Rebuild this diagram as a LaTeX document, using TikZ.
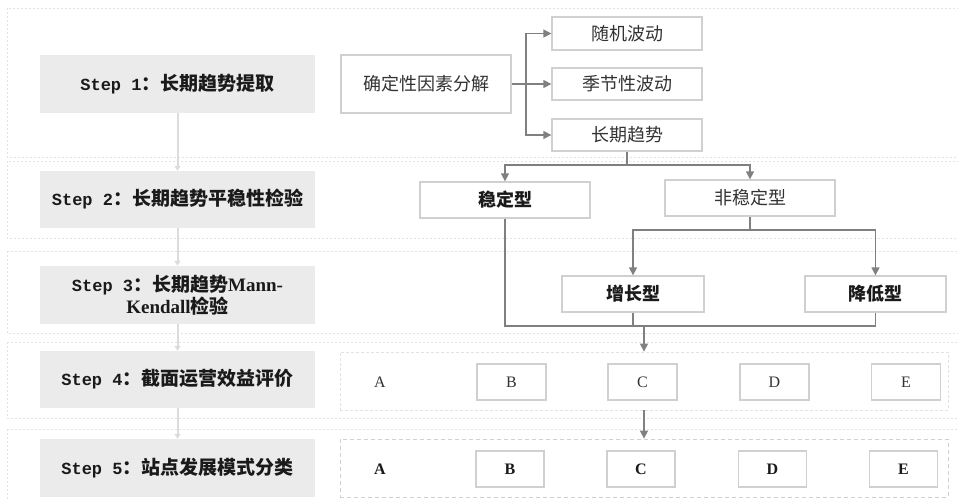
\documentclass[tikz,border=0pt]{standalone}
\usepackage{fontspec}
\setmainfont{Liberation Serif}
\newfontfamily\cjk{Noto Sans CJK SC}
\newfontfamily\monof{Liberation Mono}
\usetikzlibrary{arrows.meta}
\definecolor{bandline}{HTML}{E2E2E2}
\definecolor{stepfill}{HTML}{EBEBEB}
\definecolor{boxline}{HTML}{D0D0D0}
\definecolor{conn}{HTML}{808080}
\definecolor{stepconn}{HTML}{DCDCDC}
\definecolor{txt}{HTML}{1A1A1A}
\definecolor{txtl}{HTML}{333333}
\newcommand{\zh}[1]{{\cjk #1}}
\newcommand{\stp}[1]{{\monof\fontsize{17}{22}\selectfont Step #1}}
\tikzset{
  band/.style={draw=bandline, line width=0.8pt, dash pattern=on 2pt off 2pt, fill=white},
  stepbox/.style={fill=stepfill, draw=none, minimum width=275pt, text=txt, font=\fontsize{19}{22}\selectfont\bfseries, align=center, inner sep=0pt},
  wbox/.style={draw=boxline, line width=1.3pt, fill=white, text=txtl, font=\cjk\fontsize{18}{20}\selectfont, inner sep=0pt},
  bwbox/.style={wbox, text=txt, font=\cjk\fontsize{18}{20}\selectfont\bfseries},
  lbox/.style={draw=boxline, line width=1.3pt, fill=white, text=txtl, font=\fontsize{16}{18}\selectfont, minimum height=36pt, inner sep=0pt},
  arr/.style={draw=conn, line width=1.3pt, -{Triangle[length=8pt,width=8pt]}},
  ln/.style={draw=conn, line width=1.3pt},
  sarr/.style={draw=stepconn, line width=2pt, -{Triangle[length=5pt,width=6pt]}},
  inner/.style={draw=bandline, line width=0.8pt, dash pattern=on 3pt off 2pt, minimum width=608pt, inner sep=0pt},
}
\begin{document}
\begin{tikzpicture}[x=1pt,y=-1pt]
\useasboundingbox (0,0) rectangle (958,499);
\fill[white] (0,0) rectangle (958,499);
% bands
\draw[band] (7,8) rectangle (964,157);
\draw[band] (7,161) rectangle (964,238);
\draw[band] (7,251) rectangle (964,333);
\draw[band] (7,342) rectangle (964,418);
\draw[band] (7,429) rectangle (964,505);
% inner dashed boxes
\node[inner, minimum height=58pt] (r4) at (644,381) {};
\node[inner, draw=boxline, dash pattern=on 4pt off 3pt, minimum height=58pt] (r5) at (644,468) {};
% step boxes
\node[stepbox, minimum height=58pt] (s1) at (177.5,84) {\stp{1}\zh{：长期趋势提取}};
\node[stepbox, minimum height=57pt] (s2) at (177.5,199.5) {\stp{2}\zh{：长期趋势平稳性检验}};
\node[stepbox, minimum height=58pt] (s3) at (177.5,295) {\stp{3}\zh{：长期趋势}Mann-\\Kendall\zh{检验}};
\node[stepbox, minimum height=57pt] (s4) at (177.5,379.5) {\stp{4}\zh{：截面运营效益评价}};
\node[stepbox, minimum height=58pt] (s5) at (177.5,468) {\stp{5}\zh{：站点发展模式分类}};
\draw[sarr] (s1.south) -- (s2.north);
\draw[sarr] (s2.south) -- (s3.north);
\draw[sarr] (s3.south) -- (s4.north);
\draw[sarr] (s4.south) -- (s5.north);
% decomposition
\node[wbox, minimum width=170pt, minimum height=58pt] (dec) at (426,84) {确定性因素分解};
\node[wbox, minimum width=150pt, minimum height=33pt] (rand) at (627,33.5) {随机波动};
\node[wbox, minimum width=150pt, minimum height=32pt] (seas) at (627,84) {季节性波动};
\node[wbox, minimum width=150pt, minimum height=32pt] (trend) at (627,135) {长期趋势};
\coordinate (j1) at (526,84);
\draw[ln] (dec.east) -- (j1);
\draw[arr] (j1) |- (rand.west);
\draw[arr] (j1) -- (seas.west);
\draw[arr] (j1) |- (trend.west);
% stationarity
\node[bwbox, minimum width=170pt, minimum height=36pt] (stab) at (505,200) {稳定型};
\node[wbox, minimum width=170pt, minimum height=36pt] (nstab) at (750,198) {非稳定型};
\coordinate (j2) at (627,165);
\draw[ln] (trend.south) -- (j2);
\draw[arr] (j2) -| (stab.north);
\draw[arr] (j2) -| (nstab.north);
% trend test
\node[bwbox, minimum width=142pt, minimum height=36pt] (grow) at (633,294) {增长型};
\node[bwbox, minimum width=141pt, minimum height=36pt] (fall) at (875.5,294) {降低型};
\coordinate (j3) at (750,230);
\draw[ln] (nstab.south) -- (j3);
\draw[arr] (j3) -| (grow.north);
\draw[arr] (j3) -| (fall.north);
% merge
\coordinate (j4) at (644,326);
\draw[ln] (stab.south) |- (fall.south |- j4) -- (fall.south);
\draw[ln] (grow.south) -- (grow.south |- j4);
\draw[arr] (j4) -- (r4.north);
\draw[arr] (r4.south) -- (r5.north);
% row 4
\node[text=txtl, font=\fontsize{16}{18}\selectfont] (a4) at (380,382) {A};
\node[lbox, minimum width=69pt] (b4) at (511.5,382) {B};
\node[lbox, minimum width=69pt] (c4) at (642.5,382) {C};
\node[lbox, minimum width=69pt] (d4) at (774.5,382) {D};
\node[lbox, minimum width=69pt] (e4) at (906,382) {E};
% row 5
\node[text=txt, font=\fontsize{16}{18}\selectfont\bfseries] (a5) at (380,469) {A};
\node[lbox, text=txt, font=\fontsize{16}{18}\selectfont\bfseries, minimum width=68pt] (b5) at (510,469) {B};
\node[lbox, text=txt, font=\fontsize{16}{18}\selectfont\bfseries, minimum width=68pt] (c5) at (641,469) {C};
\node[lbox, text=txt, font=\fontsize{16}{18}\selectfont\bfseries, minimum width=68pt] (d5) at (772.5,469) {D};
\node[lbox, text=txt, font=\fontsize{16}{18}\selectfont\bfseries, minimum width=68pt] (e5) at (903.5,469) {E};
\end{tikzpicture}
\end{document}
